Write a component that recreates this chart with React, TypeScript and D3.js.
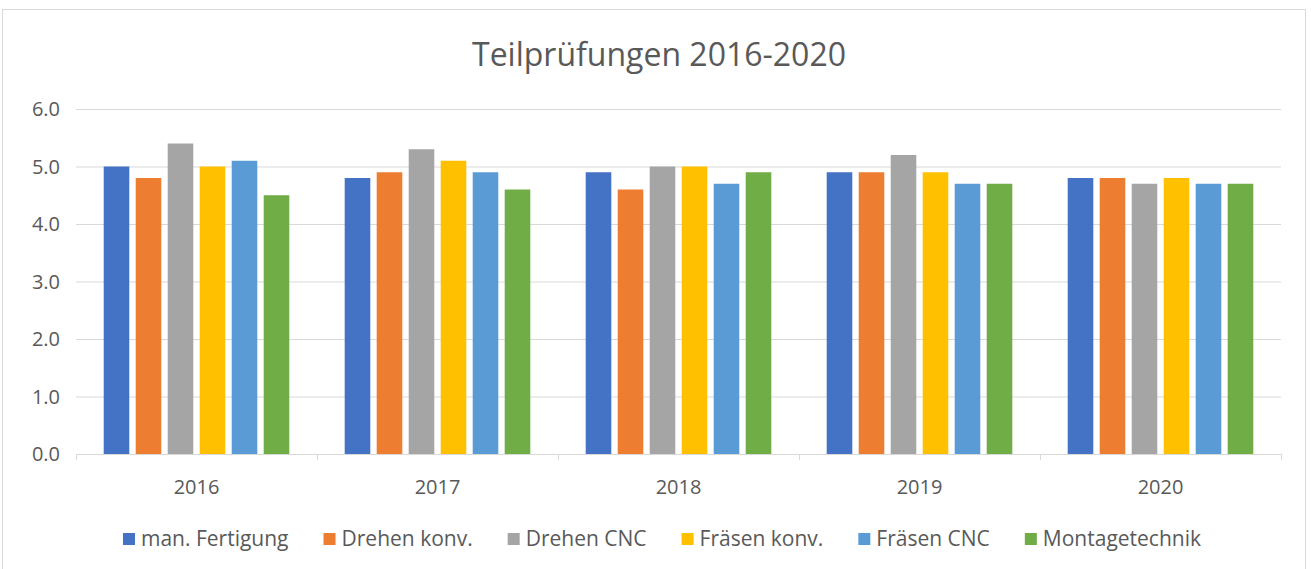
import React, { useMemo } from "react";
import * as d3 from "d3";

const categories = ["2016", "2017", "2018", "2019", "2020"];
const seriesNames = ["man. Fertigung", "Drehen konv.", "Drehen CNC", "Fräsen konv.", "Fräsen CNC", "Montagetechnik"];
const manFertigung = [5.0, 4.8, 4.9, 4.9, 4.8];
const drehenKonv = [4.8, 4.9, 4.6, 4.9, 4.8];
const drehenCNC = [5.4, 5.3, 5.0, 5.2, 4.7];
const fraesenKonv = [5.0, 5.1, 5.0, 4.9, 4.8];
const fraesenCNC = [5.1, 4.9, 4.7, 4.7, 4.7];
const montagetechnik = [4.5, 4.6, 4.9, 4.7, 4.7];
const yTicks = [0, 1, 2, 3, 4, 5, 6];
const title = "Teilprüfungen 2016-2020";

const seriesValues = [manFertigung, drehenKonv, drehenCNC, fraesenKonv, fraesenCNC, montagetechnik];
const colors = ["#4472C4", "#ED7D31", "#A5A5A5", "#FFC000", "#5B9BD5", "#70AD47"];

const W = 1311;
const H = 569;
const FONT = "'Open Sans', 'Noto Sans', sans-serif";
const plot = { left: 76, right: 1281, top: 109, bottom: 454 };

function measure(text: string, size: number) {
  const c = document.createElement("canvas").getContext("2d");
  if (!c) return text.length * size * 0.5;
  c.font = `${size}px ${FONT}`;
  return c.measureText(text).width;
}

export default function App() {
  const x0 = d3.scaleBand<string>().domain(categories).range([plot.left, plot.right]).padding(0);
  const outer = 27.7;
  const x1 = d3
    .scaleBand<string>()
    .domain(seriesNames)
    .range([outer, x0.bandwidth() - outer])
    .paddingInner(0.2)
    .paddingOuter(0);
  const y = d3.scaleLinear().domain([0, 6]).range([plot.bottom, plot.top]);

  const legendSize = 21;
  const legend = useMemo(() => {
    const sq = 12;
    const gapText = 6;
    const spacing = 35;
    const widths = seriesNames.map((s) => sq + gapText + measure(s, legendSize));
    const total = d3.sum(widths) + spacing * (widths.length - 1);
    let cx = 662 - total / 2;
    return seriesNames.map((s, i) => {
      const item = { name: s, x: cx, color: colors[i] };
      cx += widths[i] + spacing;
      return item;
    });
  }, []);

  const boundaries = categories.map((c) => x0(c)!).concat([plot.right]);

  return (
    <svg
      width={W}
      height={H}
      style={{ position: "absolute", left: 0, top: 0, background: "#fff" }}
      fontFamily={FONT}
    >
      <rect x={2.5} y={9.5} width={1303} height={580} fill="#fff" stroke="#d9d9d9" strokeWidth={1} />
      <text x={659} y={66} textAnchor="middle" fontSize={32} fill="#595959">
        {title}
      </text>
      {yTicks.map((t) => (
        <g key={t}>
          {t > 0 && (
            <line x1={plot.left} x2={plot.right} y1={y(t) + 0.5} y2={y(t) + 0.5} stroke="#d9d9d9" strokeWidth={1} />
          )}
          <text x={60} y={y(t) + 7} textAnchor="end" fontSize={20} fill="#595959">
            {t.toFixed(1)}
          </text>
        </g>
      ))}
      {categories.map((c, ci) => (
        <g key={c} transform={`translate(${x0(c)},0)`}>
          {seriesNames.map((s, si) => {
            const v = seriesValues[si][ci];
            return (
              <rect
                key={s}
                x={x1(s)}
                y={y(v)}
                width={x1.bandwidth()}
                height={y(0) - y(v)}
                fill={colors[si]}
              />
            );
          })}
          <text x={x0.bandwidth() / 2} y={494} textAnchor="middle" fontSize={20} fill="#595959">
            {c}
          </text>
        </g>
      ))}
      <line x1={plot.left} x2={plot.right} y1={plot.bottom + 0.5} y2={plot.bottom + 0.5} stroke="#d9d9d9" strokeWidth={1} />
      {boundaries.map((bx, i) => (
        <line key={i} x1={bx + 0.5} x2={bx + 0.5} y1={plot.bottom} y2={plot.bottom + 6} stroke="#d9d9d9" strokeWidth={1} />
      ))}
      {legend.map((l) => (
        <g key={l.name} transform={`translate(${l.x},0)`}>
          <rect x={0} y={533} width={12} height={12} fill={l.color} />
          <text x={18} y={546} fontSize={legendSize} fill="#595959">
            {l.name}
          </text>
        </g>
      ))}
    </svg>
  );
}
